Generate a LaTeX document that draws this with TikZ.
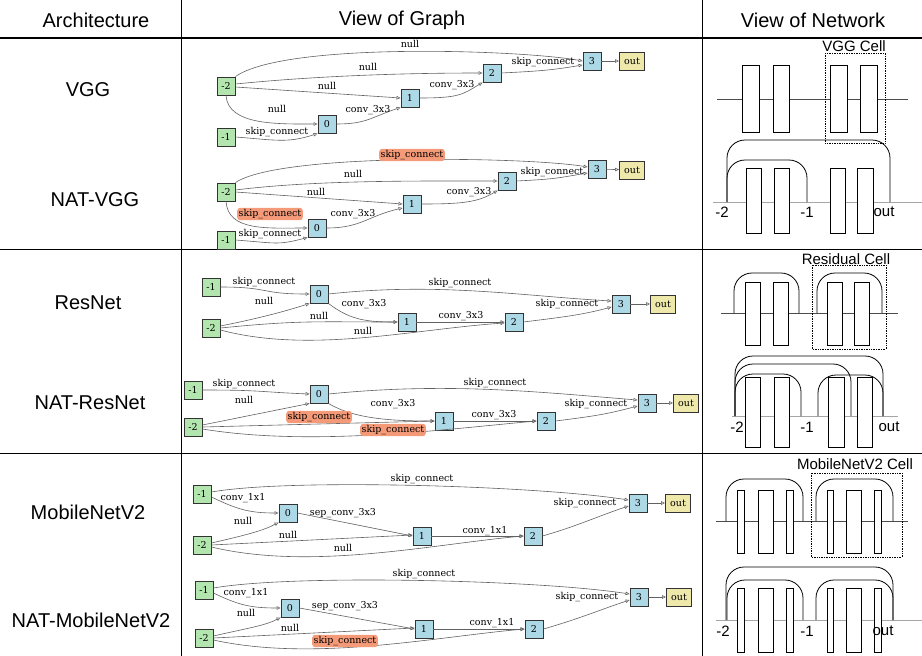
\documentclass[tikz,border=0pt]{standalone}
\usepackage{fontspec}
\setmainfont{Liberation Sans}
\newfontfamily\graphfont{DejaVu Serif}
\usetikzlibrary{arrows.meta}
\definecolor{ingreen}{HTML}{B2E6AE}
\definecolor{opblue}{HTML}{ADD8E6}
\definecolor{outyel}{HTML}{EEE8AA}
\definecolor{hlred}{HTML}{F59A78}
\tikzset{
	gn/.style={draw=black!80, line width=0.9pt, minimum size=18pt, inner sep=0pt, font=\graphfont\fontsize{9.5}{10}\selectfont},
	inb/.style={gn, fill=ingreen},
	opb/.style={gn, fill=opblue},
	outb/.style={gn, fill=outyel, minimum width=25pt},
	lbl/.style={inner sep=1pt, font=\graphfont\fontsize{9.5}{10}\selectfont},
	hl/.style={lbl, fill=hlred, rounded corners=3pt, inner sep=1.5pt},
	ed/.style={draw=black!62, line width=0.6pt, -{Triangle[open,length=4pt,width=3.5pt]}},
	hd/.style={font=\fontsize{20}{22}\selectfont},
	nl/.style={font=\fontsize{15}{17}\selectfont},
	blk/.style={draw, fill=white, line width=0.7pt},
	sk/.style={line width=0.8pt, rounded corners=18pt},
	bline/.style={draw=black!70, line width=0.6pt},
	gline/.style={draw=black!35, line width=0.9pt},
	cell/.style={densely dotted, line width=0.7pt},
}
\begin{document}
\begin{tikzpicture}[x=1pt, y=-1pt]
	\useasboundingbox (0,0) rectangle (922,656);

	\draw[line width=1.2pt] (0,38) -- (922,38);
	\draw[line width=0.8pt] (0,249) -- (922,249);
	\draw[line width=0.8pt] (0,453) -- (922,453);
	\draw[line width=0.8pt] (181,0) -- (181,656);
	\draw[line width=0.8pt] (702,0) -- (702,656);

	\node[hd] (harch) at (96,20) {Architecture};
	\node[hd] (hgraph) at (402,20) {View of Graph};
	\node[hd] (hnet) at (813,20) {View of Network};

	\node[hd] (rvgg) at (88,90) {VGG};
	\node[hd] (rnvgg) at (95,200) {NAT-VGG};
	\node[hd] (rres) at (88,303) {ResNet};
	\node[hd] (rnres) at (90,403) {NAT-ResNet};
	\node[hd] (rmob) at (88,512) {MobileNetV2};
	\node[hd] (rnmob) at (91,620) {NAT-MobileNetV2};

	\node[inb] (am2) at (226,86) {-2};
	\node[inb] (am1) at (226,137) {-1};
	\node[opb] (a0) at (327,124) {0};
	\node[opb] (a1) at (410,98) {1};
	\node[opb] (a2) at (492,73) {2};
	\node[opb] (a3) at (592,61) {3};
	\node[outb] (aout) at (632,61) {out};
	\draw[ed] (am2.north east) .. controls +(50,-35) and +(-60,-11) .. (a3.west);
	\draw[ed] ([yshift=2pt]am2.east) .. controls +(80,-8) and +(-80,0) .. (a2.west);
	\draw[ed] ([yshift=-1pt]am2.east) -- (a1.west);
	\draw[ed] (am2.south) .. controls +(2,30) and +(-40,0) .. (a0.west);
	\draw[ed] (am1.east) .. controls +(40,3) and +(-30,10) .. (a0.south west);
	\draw[ed] (a0.east) .. controls +(30,0) and +(-30,10) .. (a1.south west);
	\draw[ed] (a1.east) .. controls +(40,0) and +(-20,12) .. (a2.south west);
	\draw[ed] (a2.east) .. controls +(40,-2) and +(-30,5) .. ([yshift=-4pt]a3.west);
	\draw[ed] (a3) -- (aout);
	\node[lbl] (al1) at (410,44) {null};
	\node[lbl] (al2) at (368,67) {null};
	\node[lbl] (al3) at (327,86) {null};
	\node[lbl] (al4) at (277,109) {null};
	\node[lbl] (al5) at (277,132) {skip\_connect};
	\node[lbl] (al6) at (368,110) {conv\_3x3};
	\node[lbl] (al7) at (452,85) {conv\_3x3};
	\node[lbl] (al8) at (543,62) {skip\_connect};

	\node[inb] (bm2) at (226,192) {-2};
	\node[inb] (bm1) at (226,240) {-1};
	\node[opb] (b0) at (317,228) {0};
	\node[opb] (b1) at (412,204) {1};
	\node[opb] (b2) at (507,181) {2};
	\node[opb] (b3) at (597,169) {3};
	\node[outb] (bout) at (632,170) {out};
	\draw[ed] (bm2.north east) .. controls +(45,-30) and +(-60,-10) .. ([yshift=2pt]b3.west);
	\draw[ed] ([yshift=2pt]bm2.east) .. controls +(80,-10) and +(-80,0) .. (b2.west);
	\draw[ed] (bm2.east) -- (b1.west);
	\draw[ed] (bm2.south) .. controls +(2,30) and +(-40,0) .. (b0.west);
	\draw[ed] (bm1.east) .. controls +(40,3) and +(-30,8) .. (b0.south west);
	\draw[ed] (b0.east) .. controls +(35,0) and +(-35,8) .. ([yshift=-4pt]b1.west);
	\draw[ed] (b1.east) .. controls +(40,0) and +(-20,12) .. (b2.south west);
	\draw[ed] (b2.east) .. controls +(40,-2) and +(-30,5) .. ([yshift=-4pt]b3.west);
	\draw[ed] (b3) -- (bout);
	\node[hl] (bl1) at (412,155) {skip\_connect};
	\node[lbl] (bl2) at (353,174) {null};
	\node[lbl] (bl3) at (316,192) {null};
	\node[hl] (bl4) at (270,214) {skip\_connect};
	\node[lbl] (bl5) at (270,234) {skip\_connect};
	\node[lbl] (bl6) at (353,214) {conv\_3x3};
	\node[lbl] (bl7) at (469,192) {conv\_3x3};
	\node[lbl] (bl8) at (552,172) {skip\_connect};

	\node[inb] (cm1) at (211,287) {-1};
	\node[inb] (cm2) at (211,328) {-2};
	\node[opb] (c0) at (319,294) {0};
	\node[opb] (c1) at (407,322) {1};
	\node[opb] (c2) at (514,322) {2};
	\node[opb] (c3) at (621,304) {3};
	\node[outb] (cout) at (663,304) {out};
	\draw[ed] (cm1.east) .. controls +(50,0) and +(-50,0) .. (c0.west);
	\draw[ed] ([yshift=2pt]cm2.east) .. controls +(40,-8) and +(-25,8) .. (c0.south west);
	\draw[ed] (c0.east) .. controls +(110,-12) and +(-90,-5) .. ([yshift=3pt]c3.west);
	\draw[ed] (c0.south east) .. controls +(20,15) and +(-35,0) .. (c1.west);
	\draw[ed] (cm2.east) .. controls +(80,-8) and +(-80,0) .. (c1.west);
	\draw[ed] (c1) -- (c2);
	\draw[ed] ([yshift=-2pt]cm2.east) .. controls +(90,24) and +(-90,6) .. ([yshift=-1pt]c2.west);
	\draw[ed] (c2.east) .. controls +(40,-5) and +(-30,8) .. ([yshift=-3pt]c3.west);
	\draw[ed] (c3) -- (cout);
	\node[lbl] (cl1) at (264,282) {skip\_connect};
	\node[lbl] (cl2) at (264,301) {null};
	\node[lbl] (cl3) at (460,283) {skip\_connect};
	\node[lbl] (cl4) at (364,304) {conv\_3x3};
	\node[lbl] (cl5) at (319,316) {null};
	\node[lbl] (cl6) at (461,316) {conv\_3x3};
	\node[lbl] (cl7) at (363,331) {null};
	\node[lbl] (cl8) at (567,304) {skip\_connect};

	\node[inb] (dm1) at (193,390) {-1};
	\node[inb] (dm2) at (193,427) {-2};
	\node[opb] (d0) at (319,394) {0};
	\node[opb] (d1) at (444,421) {1};
	\node[opb] (d2) at (546,421) {2};
	\node[opb] (d3) at (647,403) {3};
	\node[outb] (dout) at (686,403) {out};
	\draw[ed] (dm1.east) .. controls +(60,0) and +(-50,-2) .. (d0.west);
	\draw[ed] ([yshift=2pt]dm2.east) -- (d0.south west);
	\draw[ed] (d0.east) .. controls +(120,-12) and +(-100,-8) .. ([yshift=3pt]d3.west);
	\draw[ed] (d0.south east) .. controls +(25,15) and +(-45,0) .. (d1.west);
	\draw[ed] (dm2.east) -- (d1.west);
	\draw[ed] (d1) -- (d2);
	\draw[ed] ([yshift=-2pt]dm2.east) .. controls +(110,18) and +(-90,8) .. (d2.west);
	\draw[ed] (d2.east) .. controls +(40,-5) and +(-30,8) .. ([yshift=-3pt]d3.west);
	\draw[ed] (d3) -- (dout);
	\node[lbl] (dl1) at (244,384) {skip\_connect};
	\node[lbl] (dl2) at (244,400) {null};
	\node[lbl] (dl3) at (495,383) {skip\_connect};
	\node[lbl] (dl4) at (393,404) {conv\_3x3};
	\node[hl] (dl5) at (319,417) {skip\_connect};
	\node[lbl] (dl6) at (494,415) {conv\_3x3};
	\node[hl] (dl7) at (393,430) {skip\_connect};
	\node[lbl] (dl8) at (596,404) {skip\_connect};

	\node[inb] (em1) at (202,494) {-1};
	\node[inb] (em2) at (202,545) {-2};
	\node[opb] (e0) at (288,513) {0};
	\node[opb] (e1) at (422,536) {1};
	\node[opb] (e2) at (533,536) {2};
	\node[opb] (e3) at (638,503) {3};
	\node[outb] (eout) at (678,503) {out};
	\draw[ed] ([yshift=2pt]em1.east) .. controls +(80,-14) and +(-90,-14) .. ([yshift=3pt]e3.west);
	\draw[ed] ([yshift=-3pt]em1.east) .. controls +(25,12) and +(-30,0) .. (e0.west);
	\draw[ed] ([yshift=2pt]em2.east) .. controls +(35,-8) and +(-15,8) .. (e0.south west);
	\draw[ed] (e0.east) -- (e1.west);
	\draw[ed] (em2.east) -- ([yshift=1pt]e1.west);
	\draw[ed] (e1) -- (e2);
	\draw[ed] ([yshift=-2pt]em2.east) .. controls +(100,24) and +(-90,8) .. (e2.west);
	\draw[ed] (e2.east) .. controls +(35,-10) and +(-30,10) .. ([yshift=-3pt]e3.west);
	\draw[ed] (e3) -- (eout);
	\node[lbl] (el1) at (422,479) {skip\_connect};
	\node[lbl] (el2) at (243,498) {conv\_1x1};
	\node[lbl] (el3) at (243,521) {null};
	\node[lbl] (el4) at (343,513) {sep\_conv\_3x3};
	\node[lbl] (el5) at (288,535) {null};
	\node[lbl] (el6) at (485,531) {conv\_1x1};
	\node[lbl] (el7) at (343,548) {null};
	\node[lbl] (el8) at (585,503) {skip\_connect};

	\node[inb] (fm1) at (204,590) {-1};
	\node[inb] (fm2) at (204,638) {-2};
	\node[opb] (f0) at (290,608) {0};
	\node[opb] (f1) at (424,629) {1};
	\node[opb] (f2) at (534,629) {2};
	\node[opb] (f3) at (639,597) {3};
	\node[outb] (fout) at (679,597) {out};
	\draw[ed] ([yshift=2pt]fm1.east) .. controls +(80,-14) and +(-90,-14) .. ([yshift=3pt]f3.west);
	\draw[ed] ([yshift=-3pt]fm1.east) .. controls +(25,12) and +(-30,0) .. (f0.west);
	\draw[ed] ([yshift=2pt]fm2.east) .. controls +(35,-8) and +(-15,8) .. (f0.south west);
	\draw[ed] (f0.east) -- (f1.west);
	\draw[ed] (fm2.east) -- ([yshift=1pt]f1.west);
	\draw[ed] (f1) -- (f2);
	\draw[ed] ([yshift=-2pt]fm2.east) .. controls +(100,22) and +(-90,8) .. (f2.west);
	\draw[ed] (f2.east) .. controls +(35,-10) and +(-30,10) .. ([yshift=-3pt]f3.west);
	\draw[ed] (f3) -- (fout);
	\node[lbl] (fl1) at (424,574) {skip\_connect};
	\node[lbl] (fl2) at (246,593) {conv\_1x1};
	\node[lbl] (fl3) at (246,613) {null};
	\node[lbl] (fl4) at (345,606) {sep\_conv\_3x3};
	\node[lbl] (fl5) at (290,628) {null};
	\node[lbl] (fl6) at (492,623) {conv\_1x1};
	\node[hl] (fl7) at (345,641) {skip\_connect};
	\node[lbl] (fl8) at (587,597) {skip\_connect};

	\draw[bline] (717,99) -- (908,99);
	\draw[blk] (742,65) rectangle (759,132);
	\draw[blk] (773,65) rectangle (789,132);
	\draw[blk] (830,65) rectangle (847,132);
	\draw[blk] (860,65) rectangle (877,132);
	\draw[cell] (825,53) rectangle (885,143);
	\node[nl] (vcell) at (854,46) {VGG Cell};
	\draw[gline] (713,202) -- (922,202);
	\draw[blk] (746,168) rectangle (761,233);
	\draw[blk] (774,168) rectangle (789,233);
	\draw[blk] (830,168) rectangle (845,233);
	\draw[blk] (857,168) rectangle (873,233);
	\draw[sk] (727,202) |- (890,140) -- (890,202);
	\draw[sk] (727,202) |- (807,160) -- (807,202);
	\node[nl] (vm2) at (722,212) {-2};
	\node[nl] (vm1) at (807,212) {-1};
	\node[nl] (vout) at (884,212) {out};

	\draw[bline] (721,313) -- (898,313);
	\draw[blk] (745,282) rectangle (760,345);
	\draw[blk] (773,282) rectangle (788,345);
	\draw[blk] (827,282) rectangle (842,345);
	\draw[blk] (854,282) rectangle (869,345);
	\draw[sk] (734,313) |- (799,273) -- (799,313);
	\draw[sk] (817,313) |- (882,273) -- (882,313);
	\draw[cell] (812,265) rectangle (886,349);
	\node[nl] (rcell) at (846,259) {Residual Cell};
	\draw[gline] (732,416) -- (898,416);
	\draw[blk] (745,377) rectangle (760,447);
	\draw[blk] (774,377) rectangle (789,447);
	\draw[blk] (828,377) rectangle (844,447);
	\draw[blk] (857,377) rectangle (872,447);
	\draw[sk] (735,416) |- (883,356) -- (883,416);
	\draw[sk] (735,416) |- (851,364) -- (851,416);
	\draw[sk] (735,416) |- (801,374) -- (801,416);
	\draw[sk] (818,416) |- (883,375) -- (883,416);
	\node[nl] (rm2) at (737,427) {-2};
	\node[nl] (rm1) at (807,427) {-1};
	\node[nl] (rout) at (889,427) {out};

	\draw[bline] (716,521) -- (908,521);
	\draw[blk] (737,490) rectangle (744,553);
	\draw[blk] (758,490) rectangle (773,553);
	\draw[blk] (786,490) rectangle (793,553);
	\draw[blk] (827,490) rectangle (833,553);
	\draw[blk] (846,490) rectangle (861,553);
	\draw[blk] (874,490) rectangle (881,553);
	\draw[sk] (726,521) |- (803,479) -- (803,521);
	\draw[sk] (816,521) |- (893,479) -- (893,521);
	\draw[cell] (811,473) rectangle (902,557);
	\node[nl] (mcell) at (855,464) {MobileNetV2 Cell};
	\draw[gline] (716,620) -- (922,620);
	\draw[blk] (737,588) rectangle (744,652);
	\draw[blk] (758,588) rectangle (773,652);
	\draw[blk] (786,588) rectangle (793,652);
	\draw[blk] (827,588) rectangle (833,652);
	\draw[blk] (846,588) rectangle (861,652);
	\draw[blk] (874,588) rectangle (881,652);
	\draw[sk] (726,620) |- (893,567) -- (893,620);
	\draw[sk] (727,620) |- (803,580) -- (803,620);
	\draw[sk] (816,620) |- (893,580) -- (893,620);
	\node[nl] (mm2) at (723,631) {-2};
	\node[nl] (mm1) at (807,631) {-1};
	\node[nl] (mout) at (883,631) {out};
\end{tikzpicture}
\end{document}
